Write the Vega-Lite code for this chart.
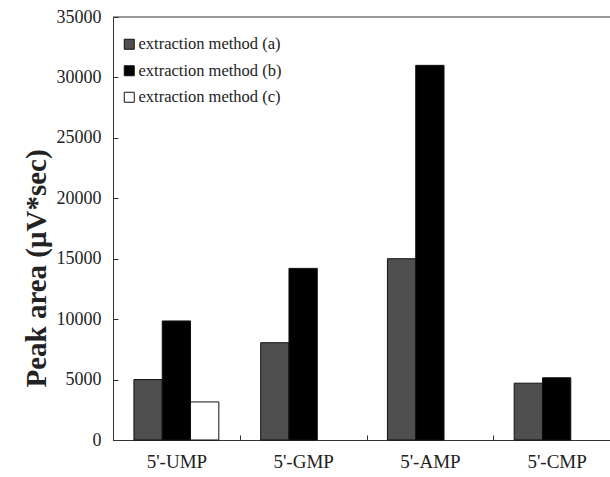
{
  "$schema": "https://vega.github.io/schema/vega-lite/v6.json",
  "width": 497,
  "height": 423,
  "autosize": {"type": "none"},
  "padding": {"left": 113, "top": 17, "right": 0, "bottom": 37},
  "background": "white",
  "config": {
    "view": {"stroke": null},
    "font": "Liberation Serif"
  },
  "layer": [
    {
      "data": {
        "values": [
          {"nucleotide": "5'-UMP", "method": "extraction method (a)", "area": 5000},
          {"nucleotide": "5'-UMP", "method": "extraction method (b)", "area": 9850},
          {"nucleotide": "5'-UMP", "method": "extraction method (c)", "area": 3150},
          {"nucleotide": "5'-GMP", "method": "extraction method (a)", "area": 8050},
          {"nucleotide": "5'-GMP", "method": "extraction method (b)", "area": 14200},
          {"nucleotide": "5'-AMP", "method": "extraction method (a)", "area": 15000},
          {"nucleotide": "5'-AMP", "method": "extraction method (b)", "area": 31000},
          {"nucleotide": "5'-CMP", "method": "extraction method (a)", "area": 4700},
          {"nucleotide": "5'-CMP", "method": "extraction method (b)", "area": 5150}
        ]
      },
      "mark": {"type": "bar", "stroke": "#111111", "strokeWidth": 1},
      "encoding": {
        "x": {
          "field": "nucleotide",
          "type": "nominal",
          "sort": ["5'-UMP", "5'-GMP", "5'-AMP", "5'-CMP"],
          "scale": {"range": [0, 507], "paddingInner": 0, "paddingOuter": 0},
          "axis": {
            "title": null,
            "labelAngle": 0,
            "labelFont": "Liberation Serif",
            "labelFontSize": 19,
            "labelColor": "#222222",
            "labelPadding": 17,
            "domainColor": "#333333",
            "tickColor": "#333333",
            "tickBand": "extent",
            "tickSize": -5
          }
        },
        "xOffset": {
          "field": "method",
          "type": "nominal",
          "scale": {"paddingInner": 0, "paddingOuter": 0.74}
        },
        "y": {
          "field": "area",
          "type": "quantitative",
          "scale": {"domain": [0, 35000], "nice": false},
          "axis": {
            "title": "Peak area (μV*sec)",
            "titleFont": "Liberation Serif",
            "titleFontSize": 29,
            "titleFontWeight": "bold",
            "titleColor": "#222222",
            "titlePadding": 5,
            "titleY": 251,
            "values": [0, 5000, 10000, 15000, 20000, 25000, 30000, 35000],
            "format": "d",
            "labelFont": "Liberation Serif",
            "labelFontSize": 18,
            "labelColor": "#222222",
            "labelPadding": 17,
            "domainColor": "#333333",
            "tickColor": "#333333",
            "tickSize": -5,
            "grid": false
          }
        },
        "color": {
          "field": "method",
          "type": "nominal",
          "scale": {
            "domain": ["extraction method (a)", "extraction method (b)", "extraction method (c)"],
            "range": ["#4f4f4f", "#000000", "#ffffff"]
          },
          "legend": {
            "title": null,
            "orient": "none",
            "legendX": 8,
            "legendY": 19,
            "padding": 0,
            "symbolType": "square",
            "symbolSize": 100,
            "symbolStrokeColor": "#111111",
            "symbolStrokeWidth": 1,
            "labelFont": "Liberation Serif",
            "labelFontSize": 16.5,
            "labelColor": "#222222",
            "labelOffset": 1,
            "rowPadding": 9.5
          }
        }
      }
    },
    {
      "data": {"values": [{"top": 35000}]},
      "mark": {"type": "rule", "color": "#333333", "strokeWidth": 1},
      "encoding": {
        "y": {"field": "top", "type": "quantitative"}
      }
    }
  ]
}
